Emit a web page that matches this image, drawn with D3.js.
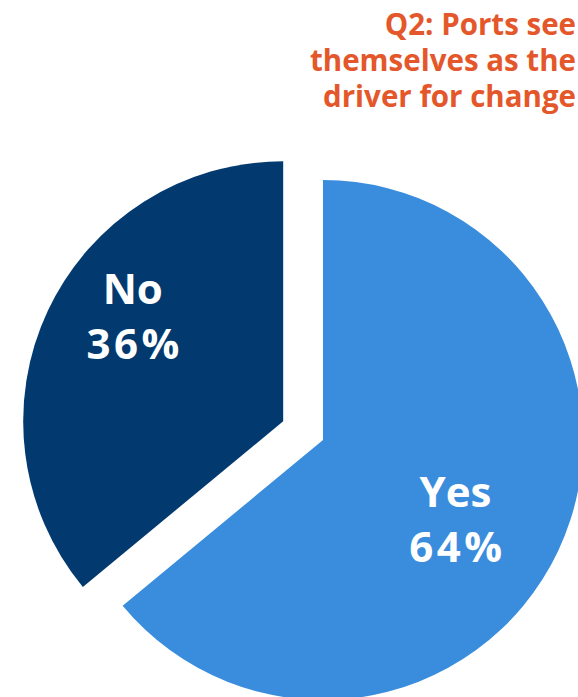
<!DOCTYPE html>
<html><head><meta charset="utf-8">
<script src="https://cdn.jsdelivr.net/npm/d3@7"></script>
<style>html,body{margin:0;padding:0;background:#fff;}svg{display:block;}</style>
</head><body>
<svg id="chart" width="578" height="697"></svg>
<script>
const categories = ["Yes", "No"];
const values = [64, 36];
const titleLines = ["Q2: Ports see", "themselves as the", "driver for change"];

const colors = {Yes: "#3a8ddd", No: "#023a6f"};
const explode = {Yes: 0, No: 44};
const labelOffset = {Yes: [-6, 15], No: [16, -26]};

const W = 578, H = 697;
const cx = 323, cy = 440, R = 260;
const svg = d3.select("#chart");

const data = categories.map((c, i) => ({cat: c, value: values[i]}));
const pie = d3.pie().sort(null).value(d => d.value);
const arc = d3.arc().innerRadius(0).outerRadius(R);
const arcs = pie(data);

const g = svg.append("g").attr("transform", `translate(${cx},${cy})`);
const slice = g.selectAll("g.slice").data(arcs).join("g")
  .attr("class", "slice")
  .attr("transform", d => {
    const m = (d.startAngle + d.endAngle) / 2;
    const e = explode[d.data.cat];
    return `translate(${Math.sin(m) * e},${-Math.cos(m) * e})`;
  });
slice.append("path").attr("d", arc).attr("fill", d => colors[d.data.cat]);

const labelR = {Yes: 153, No: 184};
slice.each(function(d) {
  const m = (d.startAngle + d.endAngle) / 2;
  const r = labelR[d.data.cat];
  const off = labelOffset[d.data.cat];
  const x = Math.sin(m) * r + off[0], y = -Math.cos(m) * r + off[1];
  const t = d3.select(this).append("text")
    .attr("text-anchor", "middle")
    .attr("fill", "#fff")
    .attr("font-family", "'Open Sans', 'Noto Sans', sans-serif")
    .attr("font-weight", "bold")
    .attr("font-size", 42);
  t.append("tspan").attr("x", x).attr("y", y - 13).text(d.data.cat);
  t.append("tspan").attr("x", x + 2).attr("y", y + 42)
    .attr("letter-spacing", 3.5).text(d.data.value + "%");
});

const title = svg.append("text")
  .attr("text-anchor", "end")
  .attr("fill", "#e4572b")
  .attr("font-family", "'Open Sans', 'Noto Sans', sans-serif")
  .attr("font-weight", "bold")
  .attr("font-size", 29.5);
titleLines.forEach((l, i) => {
  title.append("tspan").attr("x", 576).attr("y", 35 + i * 36).text(l);
});
</script>
</body></html>
